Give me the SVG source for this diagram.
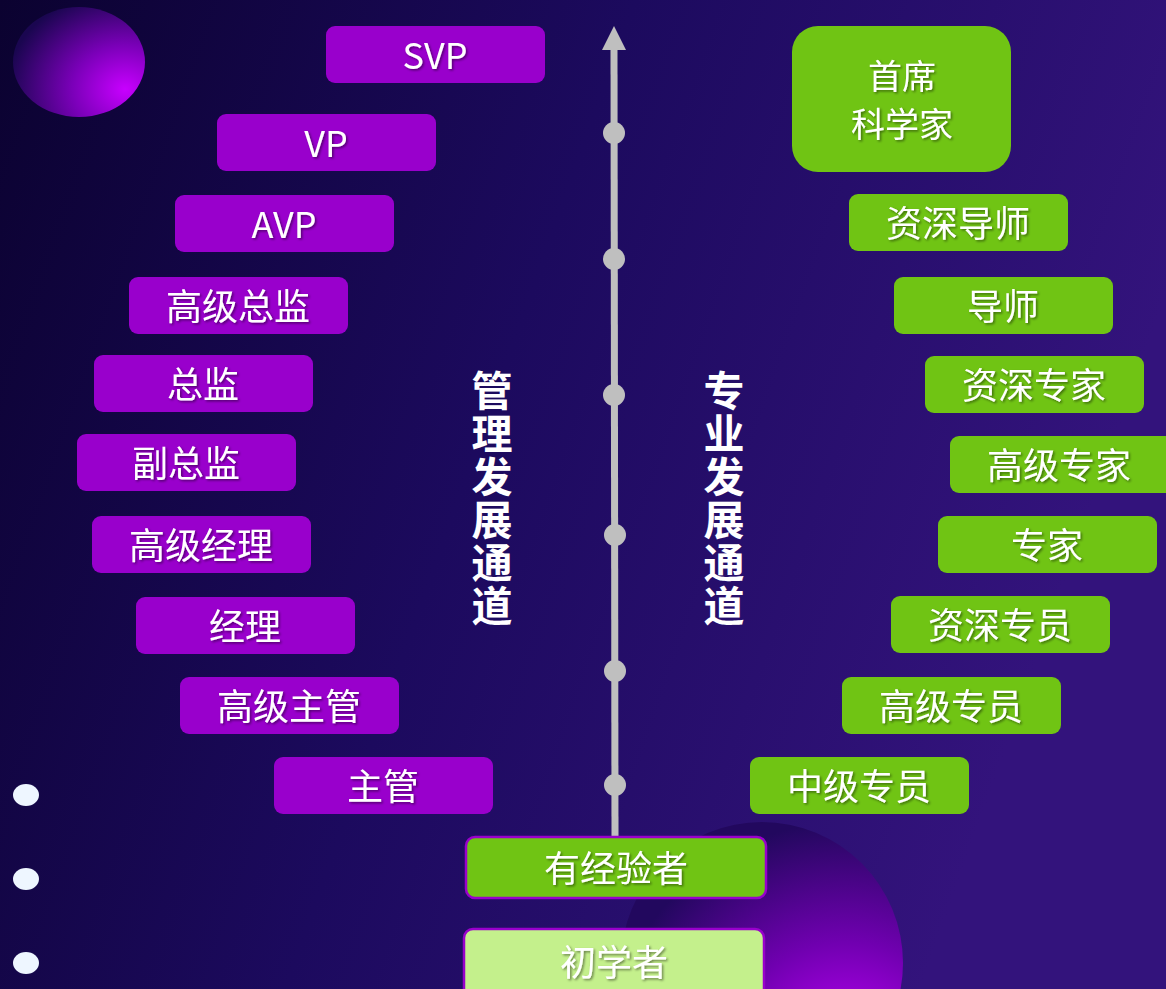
<svg xmlns="http://www.w3.org/2000/svg" width="1166" height="989" viewBox="0 0 1166 989">
<defs>
<linearGradient id="bg" x1="0" y1="0" x2="1" y2="0.3">
<stop offset="0" stop-color="#0b0230"/>
<stop offset="0.5" stop-color="#1c0a5e"/>
<stop offset="1" stop-color="#33137c"/>
</linearGradient>
<radialGradient id="orb1" cx="0.85" cy="0.75" r="0.9" fx="0.85" fy="0.75">
<stop offset="0" stop-color="#c800ff"/>
<stop offset="0.45" stop-color="#7a00b8"/>
<stop offset="1" stop-color="#1a0650"/>
</radialGradient>
<radialGradient id="orb2" cx="0.8" cy="0.85" r="0.85" fx="0.8" fy="0.85">
<stop offset="0" stop-color="#c600ff"/>
<stop offset="0.5" stop-color="#7000b0"/>
<stop offset="1" stop-color="#22085e"/>
</radialGradient>
<filter id="sh" x="-10%" y="-10%" width="120%" height="130%">
<feDropShadow dx="1.5" dy="1.5" stdDeviation="1" flood-color="#000" flood-opacity="0.45"/>
</filter>
<marker id="arr" viewBox="0 0 24 24" markerWidth="24" markerHeight="24" refX="2" refY="12" orient="auto" markerUnits="userSpaceOnUse">
<path d="M0 0 L24 12 L0 24 Z" fill="#bfbfbf"/>
</marker>
<style>
.p rect{fill:#9900cc}
.g rect{fill:#70c414}
.t{font-family:"Noto Sans CJK SC","Noto Sans",sans-serif;font-size:36px;fill:#ffffff;text-anchor:middle;filter:url(#sh)}
.t2{font-size:34px}
.v{font-family:"Noto Sans CJK SC",sans-serif;font-size:41px;font-weight:bold;fill:#ffffff;writing-mode:vertical-rl;text-anchor:start;letter-spacing:2px}
.dot{fill:#bfbfbf}
</style>
</defs>
<rect width="1166" height="989" fill="url(#bg)"/>
<ellipse cx="79" cy="62" rx="66" ry="55" fill="url(#orb1)"/>
<circle cx="762" cy="963" r="141" fill="url(#orb2)"/>
<ellipse cx="26" cy="795" rx="13" ry="11" fill="#eef6ff"/>
<ellipse cx="26" cy="879" rx="13" ry="11" fill="#eef6ff"/>
<ellipse cx="26" cy="963" rx="13" ry="11" fill="#eef6ff"/>

<g id="connectors">
<line x1="615" y1="838" x2="614" y2="48" stroke="#bfbfbf" stroke-width="7" marker-end="url(#arr)"/>
<circle class="dot" cx="614" cy="133" r="11"/>
<circle class="dot" cx="614" cy="259" r="11"/>
<circle class="dot" cx="614" cy="395" r="11"/>
<circle class="dot" cx="615" cy="535" r="11"/>
<circle class="dot" cx="615" cy="671" r="11"/>
<circle class="dot" cx="615" cy="785" r="11"/>
</g>

<g id="label-mgmt"><text class="v" x="492" y="370">管理发展通道</text></g>
<g id="label-prof"><text class="v" x="724" y="370">专业发展通道</text></g>

<g id="svp" class="p"><rect x="326" y="26" width="219" height="57" rx="9"/><text class="t" x="435" y="69">SVP</text></g>
<g id="vp" class="p"><rect x="217" y="114" width="219" height="57" rx="9"/><text class="t" x="326" y="157">VP</text></g>
<g id="avp" class="p"><rect x="175" y="195" width="219" height="57" rx="9"/><text class="t" x="284" y="238">AVP</text></g>
<g id="sr-director" class="p"><rect x="129" y="277" width="219" height="57" rx="9"/><text class="t" x="238" y="320">高级总监</text></g>
<g id="director" class="p"><rect x="94" y="355" width="219" height="57" rx="9"/><text class="t" x="203" y="398">总监</text></g>
<g id="deputy-director" class="p"><rect x="77" y="434" width="219" height="57" rx="9"/><text class="t" x="186" y="477">副总监</text></g>
<g id="sr-manager" class="p"><rect x="92" y="516" width="219" height="57" rx="9"/><text class="t" x="201" y="559">高级经理</text></g>
<g id="manager" class="p"><rect x="136" y="597" width="219" height="57" rx="9"/><text class="t" x="245" y="640">经理</text></g>
<g id="sr-supervisor" class="p"><rect x="180" y="677" width="219" height="57" rx="9"/><text class="t" x="289" y="720">高级主管</text></g>
<g id="supervisor" class="p"><rect x="274" y="757" width="219" height="57" rx="9"/><text class="t" x="383" y="800">主管</text></g>

<g id="chief-scientist" class="g"><rect x="792" y="26" width="219" height="146" rx="26"/><text class="t t2" x="902" y="89">首席</text><text class="t t2" x="902" y="137">科学家</text></g>
<g id="sr-mentor" class="g"><rect x="849" y="194" width="219" height="57" rx="9"/><text class="t" x="958" y="237">资深导师</text></g>
<g id="mentor" class="g"><rect x="894" y="277" width="219" height="57" rx="9"/><text class="t" x="1003" y="320">导师</text></g>
<g id="principal-expert" class="g"><rect x="925" y="356" width="219" height="57" rx="9"/><text class="t" x="1034" y="399">资深专家</text></g>
<g id="sr-expert" class="g"><rect x="950" y="436" width="230" height="57" rx="9"/><text class="t" x="1059" y="479">高级专家</text></g>
<g id="expert" class="g"><rect x="938" y="516" width="219" height="57" rx="9"/><text class="t" x="1047" y="559">专家</text></g>
<g id="sr-specialist" class="g"><rect x="891" y="596" width="219" height="57" rx="9"/><text class="t" x="1000" y="639">资深专员</text></g>
<g id="adv-specialist" class="g"><rect x="842" y="677" width="219" height="57" rx="9"/><text class="t" x="951" y="720">高级专员</text></g>
<g id="mid-specialist" class="g"><rect x="750" y="757" width="219" height="57" rx="9"/><text class="t" x="859" y="800">中级专员</text></g>

<g id="experienced"><rect x="466" y="837" width="300" height="61" rx="9" fill="#70c414" stroke="#9900cc" stroke-width="2.5"/><text class="t" x="616" y="882">有经验者</text></g>
<g id="beginner"><rect x="464" y="929" width="300" height="70" rx="9" fill="#c4f08c" stroke="#9900cc" stroke-width="2.5"/><text class="t" x="614" y="976">初学者</text></g>
</svg>
